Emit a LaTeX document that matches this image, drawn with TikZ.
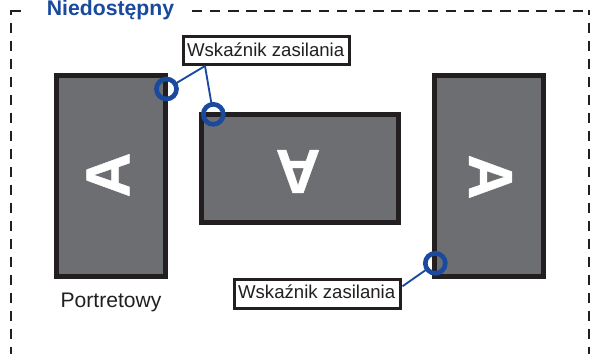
\documentclass[tikz,border=0pt]{standalone}
\usepackage{fontspec}
\setmainfont{Liberation Sans}
\newfontfamily\glyphfont[FakeBold=0.8]{Liberation Sans Bold}
\definecolor{ink}{HTML}{231F20}
\definecolor{screen}{HTML}{6D6E71}
\definecolor{blue1}{HTML}{1A4A9E}
\tikzset{
  px/.style={x=0.75pt,y=-0.75pt},
  monitor/.style={draw=ink,fill=screen,line width=3.75pt,inner sep=0pt,outer sep=0pt},
  glyph/.style={text=white,inner sep=0pt,font=\fontsize{46.5}{46.5}\selectfont\glyphfont},
  ledring/.style={circle,draw=blue1,line width=3.5pt,minimum size=15pt,inner sep=0pt,outer sep=0pt},
  callout/.style={draw=ink,fill=white,line width=2.1pt,minimum width=124.7pt,minimum height=21.2pt,inner sep=0pt,text=ink},
  lead/.style={draw=blue1,line width=1.4pt},
  frameside/.style={ink,line width=1.5pt,dash pattern=on 7.8pt off 5.7pt,dash phase=4pt},
  frametop/.style={ink,line width=1.5pt,dash pattern=on 7.8pt off 5.8pt},
  calltext/.style={text=ink,inner sep=0pt,anchor=base,font=\fontsize{13.95}{14}\selectfont},
}
\begin{document}
\begin{tikzpicture}[px]
\useasboundingbox (0,0) rectangle (594,354);
% dashed frame
\draw[frameside] (10.5,10) -- (10.5,354);
\draw[frameside] (589,10) -- (589,354);
\draw[frametop] (10.5,11) -- (589,11);
% title
\node[fill=white,inner sep=0pt,minimum width=122pt,minimum height=20pt] (mask) at (110,11) {};
\node[anchor=base,inner sep=0pt,text=blue1,font=\fontsize{15.9}{16}\selectfont\bfseries] (title) at (110.5,15) {Niedostępny};
% monitors
\node[monitor,minimum width=81.5pt,minimum height=150.5pt] (m1) at (111,175.7) {};
\node[monitor,minimum width=148.2pt,minimum height=81.5pt] (m2) at (300,168.5) {};
\node[monitor,minimum width=81.5pt,minimum height=150.5pt] (m3) at (489.3,175.9) {};
\node[glyph,rotate=90] (a1) at (108,175) {A};
\node[glyph,rotate=180] (a2) at (298,171.5) {A};
\node[glyph,rotate=-90] (a3) at (490.5,177) {A};
% callouts
\node[callout] (b1) at (266.5,50.5) {};
\node[callout] (b2) at (317.5,294) {};
\node[calltext] (t1) at (265.7,56) {Wskaźnik zasilania};
\node[calltext] (t2) at (316.7,298.7) {Wskaźnik zasilania};
\node[anchor=base,inner sep=0pt,text=ink,font=\fontsize{15.8}{16}\selectfont] (portrait) at (111,307.7) {Portretowy};
% rings
\node[ledring] (c1) at (166.5,89) {};
\node[ledring] (c2) at (213.3,114.3) {};
\node[ledring] (c3) at (435.3,263.3) {};
% leaders
\coordinate (f1) at (205,66);
\coordinate (f2) at (402.5,286.3);
\draw[lead] (f1) -- (c1);
\draw[lead] (f1) -- (c2);
\draw[lead] (f2) -- (c3);
\end{tikzpicture}
\end{document}
